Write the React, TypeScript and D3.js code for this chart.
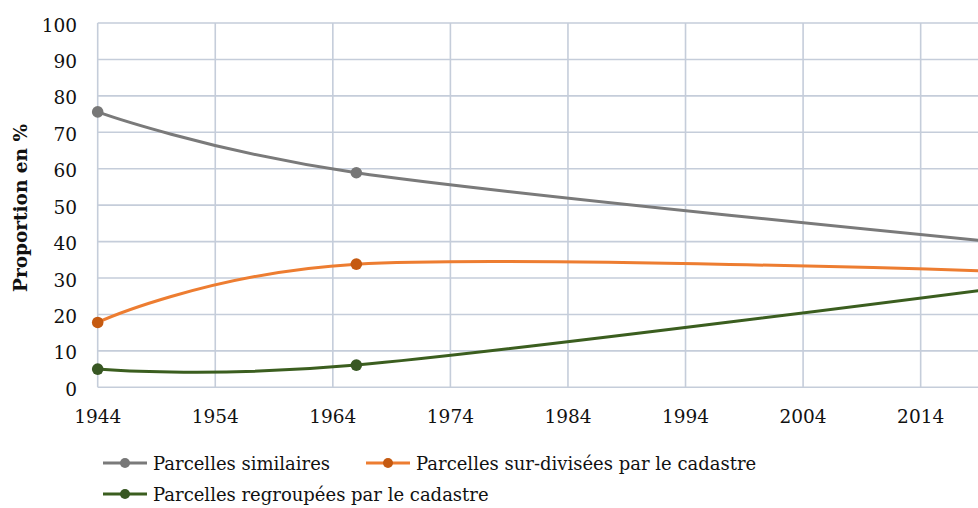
import React from "react";
import * as d3 from "d3";

const years = [1944, 1966, 2020];
const similaires = [75.6, 58.9, 40.0];
const surDivisees = [17.8, 33.8, 31.9];
const regroupees = [5.0, 6.1, 27.0];
const xTicks = [1944, 1954, 1964, 1974, 1984, 1994, 2004, 2014];
const yTicks = [0, 10, 20, 30, 40, 50, 60, 70, 80, 90, 100];
const seriesNames = [
  "Parcelles similaires",
  "Parcelles sur-divisées par le cadastre",
  "Parcelles regroupées par le cadastre",
];
const yTitle = "Proportion en %";

const W = 978;
const H = 508;
const FONT = "'DejaVu Serif', 'Liberation Serif', serif";

const series = [
  { name: seriesNames[0], values: similaires, line: "#7a7a7a", marker: "#777777" },
  { name: seriesNames[1], values: surDivisees, line: "#ED7D31", marker: "#C55A11" },
  { name: seriesNames[2], values: regroupees, line: "#3B5E1F", marker: "#385723" },
];

export default function App() {
  const x = d3.scaleLinear().domain([1944, 2020]).range([97.7, 991.2]);
  const y = d3.scaleLinear().domain([0, 100]).range([387.3, 23]);
  const line = d3
    .line<[number, number]>()
    .x((d) => x(d[0]))
    .y((d) => y(d[1]))
    .curve(d3.curveCardinal.tension(0));
  const grid = "#C5CDDA";

  const legendItems = [
    { s: series[0], lx: 103, ly: 463 },
    { s: series[1], lx: 366, ly: 463 },
    { s: series[2], lx: 103, ly: 494 },
  ];

  return (
    <svg
      width={W}
      height={H}
      style={{ position: "absolute", left: 0, top: 0, background: "#fff" }}
      fontFamily={FONT}
    >
      <rect width={W} height={H} fill="#fff" />
      {yTicks.map((t) => (
        <line key={"gy" + t} x1={x(1944)} x2={W} y1={y(t)} y2={y(t)} stroke={grid} strokeWidth={1.6} />
      ))}
      {xTicks.map((t) => (
        <line key={"gx" + t} x1={x(t)} x2={x(t)} y1={y(100)} y2={y(0)} stroke={grid} strokeWidth={1.6} />
      ))}
      {yTicks.map((t) => (
        <text key={"ly" + t} x={77} y={y(t) + 8.5} textAnchor="end" fontSize={18.5} fill="#111">
          {t}
        </text>
      ))}
      {xTicks.map((t) => (
        <text key={"lx" + t} x={x(t)} y={423} textAnchor="middle" fontSize={18.5} fill="#111">
          {t}
        </text>
      ))}
      <text
        transform={`translate(27,208) rotate(-90)`}
        textAnchor="middle"
        fontSize={18.5}
        fontWeight="bold"
        fill="#111"
      >
        {yTitle}
      </text>
      {series.map((s) => {
        const pts = years.map((yr, i) => [yr, s.values[i]] as [number, number]);
        return (
          <g key={s.name}>
            <path d={line(pts) || ""} fill="none" stroke={s.line} strokeWidth={3} strokeLinecap="round" />
            {pts.map((p, i) => (
              <circle key={i} cx={x(p[0])} cy={y(p[1])} r={5.8} fill={s.marker} />
            ))}
          </g>
        );
      })}
      {legendItems.map(({ s, lx, ly }) => (
        <g key={"lg" + s.name}>
          <line x1={lx} x2={lx + 44} y1={ly} y2={ly} stroke={s.line} strokeWidth={3} />
          <circle cx={lx + 22} cy={ly} r={5} fill={s.marker} />
          <text x={lx + 50} y={ly + 6.5} fontSize={18} fill="#111">
            {s.name}
          </text>
        </g>
      ))}
    </svg>
  );
}
